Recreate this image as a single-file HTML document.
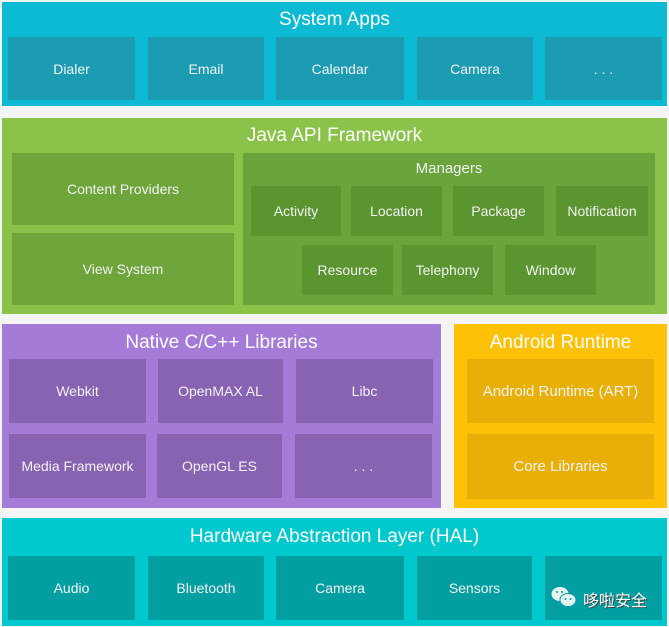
<!DOCTYPE html>
<html><head><meta charset="utf-8"><style>
html,body{margin:0;padding:0;width:669px;height:627px;background:#f4f4f4;overflow:hidden}
body{position:relative;font-family:"Liberation Sans","Noto Sans CJK SC",sans-serif;color:#fff}
.b{position:absolute;box-sizing:border-box;display:flex;align-items:center;justify-content:center;font-size:14px;color:#f2f2f2}
.t{position:absolute;text-align:center;font-size:19px;color:#fff}
.sa{background:#0cbad3}.sai{background:#1b9cb3}
.ja{background:#8bc34a}.jai{background:#6ea53b}.jm{background:#6aa43a}.jmi{background:#5a952f}
.na{background:#a57bd8}.nai{background:#8863b2}
.ar{background:#fdc107}.ari{background:#e8af07}
.ha{background:#00c8cc}.hai{background:#029fa2}
</style></head><body>
<div class="b sa" style="left:2px;top:2px;width:665px;height:104px"></div>
<div class="t" style="left:2px;top:9px;width:665px">System Apps</div>
<div class="b sai" style="left:8px;top:37px;width:127px;height:63px">Dialer</div>
<div class="b sai" style="left:148px;top:37px;width:116px;height:63px">Email</div>
<div class="b sai" style="left:276px;top:37px;width:128px;height:63px">Calendar</div>
<div class="b sai" style="left:417px;top:37px;width:116px;height:63px">Camera</div>
<div class="b sai" style="left:545px;top:37px;width:117px;height:63px">. . .</div>

<div class="b ja" style="left:2px;top:118px;width:665px;height:196px"></div>
<div class="t" style="left:2px;top:125px;width:665px">Java API Framework</div>
<div class="b jai" style="left:12px;top:153px;width:222px;height:72px">Content Providers</div>
<div class="b jai" style="left:12px;top:233px;width:222px;height:72px">View System</div>
<div class="b jm" style="left:243px;top:153px;width:412px;height:152px"></div>
<div class="b" style="left:243px;top:157px;width:412px;height:22px;font-size:15px">Managers</div>
<div class="b jmi" style="left:251px;top:186px;width:90px;height:50px">Activity</div>
<div class="b jmi" style="left:351px;top:186px;width:91px;height:50px">Location</div>
<div class="b jmi" style="left:453px;top:186px;width:91px;height:50px">Package</div>
<div class="b jmi" style="left:556px;top:186px;width:92px;height:50px">Notification</div>
<div class="b jmi" style="left:302px;top:245px;width:91px;height:50px">Resource</div>
<div class="b jmi" style="left:402px;top:245px;width:91px;height:50px">Telephony</div>
<div class="b jmi" style="left:505px;top:245px;width:91px;height:50px">Window</div>

<div class="b na" style="left:2px;top:324px;width:439px;height:184px"></div>
<div class="t" style="left:2px;top:332px;width:439px">Native C/C++ Libraries</div>
<div class="b nai" style="left:9px;top:359px;width:137px;height:64px">Webkit</div>
<div class="b nai" style="left:158px;top:359px;width:125px;height:64px">OpenMAX AL</div>
<div class="b nai" style="left:296px;top:359px;width:137px;height:64px">Libc</div>
<div class="b nai" style="left:9px;top:434px;width:137px;height:64px">Media Framework</div>
<div class="b nai" style="left:157px;top:434px;width:125px;height:64px">OpenGL ES</div>
<div class="b nai" style="left:295px;top:434px;width:137px;height:64px">. . .</div>

<div class="b ar" style="left:454px;top:324px;width:213px;height:184px"></div>
<div class="t" style="left:454px;top:332px;width:213px">Android Runtime</div>
<div class="b ari" style="left:467px;top:359px;width:187px;height:64px;font-size:15px">Android Runtime (ART)</div>
<div class="b ari" style="left:467px;top:434px;width:187px;height:65px;font-size:15px">Core Libraries</div>

<div class="b ha" style="left:2px;top:518px;width:665px;height:108px"></div>
<div class="t" style="left:2px;top:526px;width:665px">Hardware Abstraction Layer (HAL)</div>
<div class="b hai" style="left:8px;top:556px;width:127px;height:64px">Audio</div>
<div class="b hai" style="left:148px;top:556px;width:116px;height:64px">Bluetooth</div>
<div class="b hai" style="left:276px;top:556px;width:128px;height:64px">Camera</div>
<div class="b hai" style="left:417px;top:556px;width:115px;height:64px">Sensors</div>
<div class="b hai" style="left:545px;top:556px;width:117px;height:64px"></div>
<svg style="position:absolute;left:551px;top:586px" width="26" height="22" viewBox="0 0 26 22">
<ellipse cx="9" cy="8" rx="8.5" ry="7" fill="#e6f4f4"/>
<ellipse cx="17" cy="14" rx="8" ry="6.5" fill="#e6f4f4" stroke="#029fa2" stroke-width="1"/>
<circle cx="6" cy="6" r="1" fill="#029fa2"/><circle cx="11" cy="6" r="1" fill="#029fa2"/>
<circle cx="14.5" cy="13" r="1" fill="#029fa2"/><circle cx="19.5" cy="13" r="1" fill="#029fa2"/>
</svg>
<div style="position:absolute;left:583px;top:587px;font-size:16px;color:#fff;font-family:'Noto Sans CJK SC',sans-serif;text-shadow:1px 1px 0 #444">哆啦安全</div>
</body></html>
